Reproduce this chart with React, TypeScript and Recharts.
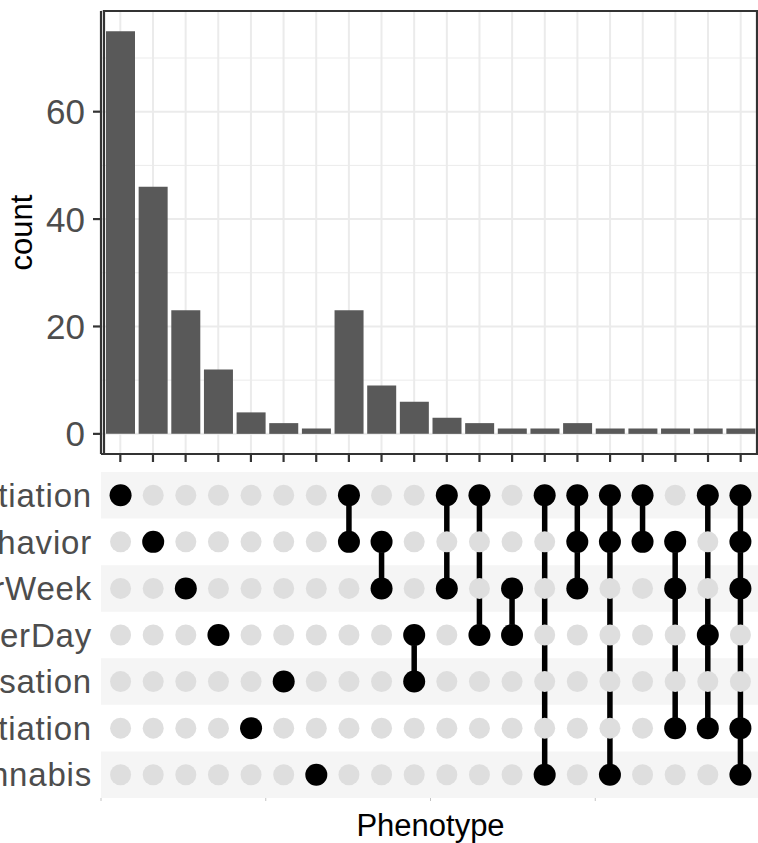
import React from 'react';
import {
  BarChart,
  Bar,
  ComposedChart,
  Scatter,
  XAxis,
  YAxis,
  CartesianGrid,
  ReferenceLine,
  ReferenceArea,
} from 'recharts';

// phenotype rows of the matrix, top to bottom
const phenotypes = [
  'SmokingInitiation',
  'RiskyBehavior',
  'DrinksPerWeek',
  'CigarettesPerDay',
  'SmokingCessation',
  'AgeOfInitiation',
  'LifetimeCannabis',
];

// size of every intersection
const counts = [75, 46, 23, 12, 4, 2, 1, 23, 9, 6, 3, 2, 1, 1, 2, 1, 1, 1, 1, 1];

// which phenotype rows belong to each intersection
const memberships = [
  [0], [1], [2], [3], [5], [4], [6],
  [0, 1], [1, 2], [3, 4], [0, 2], [0, 3], [2, 3], [0, 6],
  [0, 1, 2], [0, 1, 6], [0, 1], [1, 2, 5], [0, 3, 5], [0, 1, 2, 5, 6],
];

const countTicks = [0, 20, 40, 60];
const countMinorTicks = [10, 30, 50, 70];
const countDomain = [-3.75, 78.75];
const matrixTicks = [-0.6, 4.45, 9.5, 14.55, 19.6];

const FONT = '"Liberation Sans", Arial, Helvetica, sans-serif';
const DARK = '#333333';
const GRID = '#ebebeb';

const barData = counts.map((count, i) => ({ set: `S${i + 1}`, count }));

const allCells = memberships.flatMap((_, i) => phenotypes.map((_, r) => ({ x: i, y: r })));
const memberCells = memberships.flatMap((rows, i) => rows.map((r) => ({ x: i, y: r })));
const shadedRows = phenotypes.map((_, r) => r).filter((r) => r % 2 === 0);

const grayDot = (p: any) => <circle cx={p.cx} cy={p.cy} r={10.5} fill="#dedede" />;
const blackDot = (p: any) => <circle cx={p.cx} cy={p.cy} r={11} fill="#000000" />;
const noLabel = () => <g />;

const layer: React.CSSProperties = { position: 'absolute', left: 0 };

export default function App() {
  return (
    <div
      style={{
        position: 'absolute',
        left: 0,
        top: 0,
        width: 758,
        height: 843,
        overflow: 'hidden',
        background: '#ffffff',
        fontFamily: FONT,
      }}
    >
      {/* panel grid, drawn underneath the bars */}
      <div style={{ ...layer, top: 0 }}>
        <BarChart
          width={770}
          height={470}
          data={barData}
          margin={{ top: 11, right: 10, left: 101, bottom: 16 }}
        >
          <XAxis dataKey="set" hide padding={{ left: 3, right: 3 }} />
          <YAxis type="number" hide domain={countDomain} ticks={countTicks} allowDataOverflow />
          <CartesianGrid stroke={GRID} strokeWidth={2} vertical={false} />
          {countMinorTicks.map((v) => (
            <ReferenceLine key={`minor-${v}`} y={v} stroke={GRID} strokeWidth={1} />
          ))}
          {barData.map((d) => (
            <ReferenceLine key={`v-${d.set}`} x={d.set} stroke={GRID} strokeWidth={2} />
          ))}
        </BarChart>
      </div>

      {/* intersection sizes */}
      <div style={{ ...layer, top: 0 }}>
        <BarChart
          width={770}
          height={470}
          data={barData}
          margin={{ top: 11, right: 10, left: 0, bottom: 0 }}
          barSize={29}
        >
          <XAxis
            dataKey="set"
            interval={0}
            tick={noLabel}
            tickSize={8}
            tickLine={{ stroke: DARK, strokeWidth: 2.2 }}
            axisLine={{ stroke: DARK, strokeWidth: 2.2 }}
            padding={{ left: 3, right: 3 }}
            height={16}
          />
          <YAxis
            type="number"
            domain={countDomain}
            ticks={countTicks}
            allowDataOverflow
            width={101}
            tickSize={8}
            tickMargin={8}
            tick={{ fill: '#4d4d4d', fontSize: 35, fontFamily: FONT }}
            tickLine={{ stroke: DARK, strokeWidth: 2.2 }}
            axisLine={{ stroke: DARK, strokeWidth: 2.2 }}
            label={{
              value: 'count',
              angle: -90,
              position: 'insideLeft',
              offset: 21,
              style: { textAnchor: 'middle', fontSize: 31, fill: '#000000', fontFamily: FONT },
            }}
          />
          <Bar dataKey="count" fill="#595959" isAnimationActive={false} />
          <ReferenceArea
            y1={countDomain[0]}
            y2={countDomain[1]}
            fill="none"
            stroke={DARK}
            strokeWidth={2.2}
          />
        </BarChart>
      </div>

      {/* membership matrix */}
      <div style={{ ...layer, top: 460 }}>
        <ComposedChart
          width={770}
          height={383}
          margin={{ top: 12, right: 10, left: 0, bottom: 0 }}
        >
          {shadedRows.map((r) => (
            <ReferenceArea
              key={`band-${r}`}
              y1={r - 0.5}
              y2={r + 0.5}
              fill="#f5f5f5"
              fillOpacity={1}
              strokeWidth={0}
            />
          ))}
          <XAxis
            type="number"
            dataKey="x"
            domain={[-0.6, 19.6]}
            ticks={matrixTicks}
            allowDataOverflow
            tick={noLabel}
            tickSize={3}
            tickLine={{ stroke: '#c4c4c4', strokeWidth: 1 }}
            axisLine={false}
            height={45}
            label={{
              value: 'Phenotype',
              position: 'insideBottom',
              offset: 7,
              style: { fontSize: 31, fill: '#000000', fontFamily: FONT },
            }}
          />
          <YAxis
            type="number"
            dataKey="y"
            domain={[-0.5, 6.5]}
            reversed
            ticks={phenotypes.map((_, r) => r)}
            interval={0}
            tickFormatter={(r: number) => phenotypes[r]}
            width={101}
            axisLine={false}
            tickLine={false}
            tickSize={6}
            tickMargin={3}
            tick={{ fill: '#4d4d4d', fontSize: 33, fontFamily: FONT, letterSpacing: 0.8 }}
          />
          <Scatter data={allCells} shape={grayDot} isAnimationActive={false} />
          {memberships.map((rows, i) =>
            rows.length > 1 ? (
              <ReferenceLine
                key={`link-${i}`}
                segment={[
                  { x: i, y: Math.min(...rows) },
                  { x: i, y: Math.max(...rows) },
                ]}
                stroke="#000000"
                strokeWidth={5.5}
              />
            ) : null
          )}
          <Scatter data={memberCells} shape={blackDot} isAnimationActive={false} />
        </ComposedChart>
      </div>
    </div>
  );
}
